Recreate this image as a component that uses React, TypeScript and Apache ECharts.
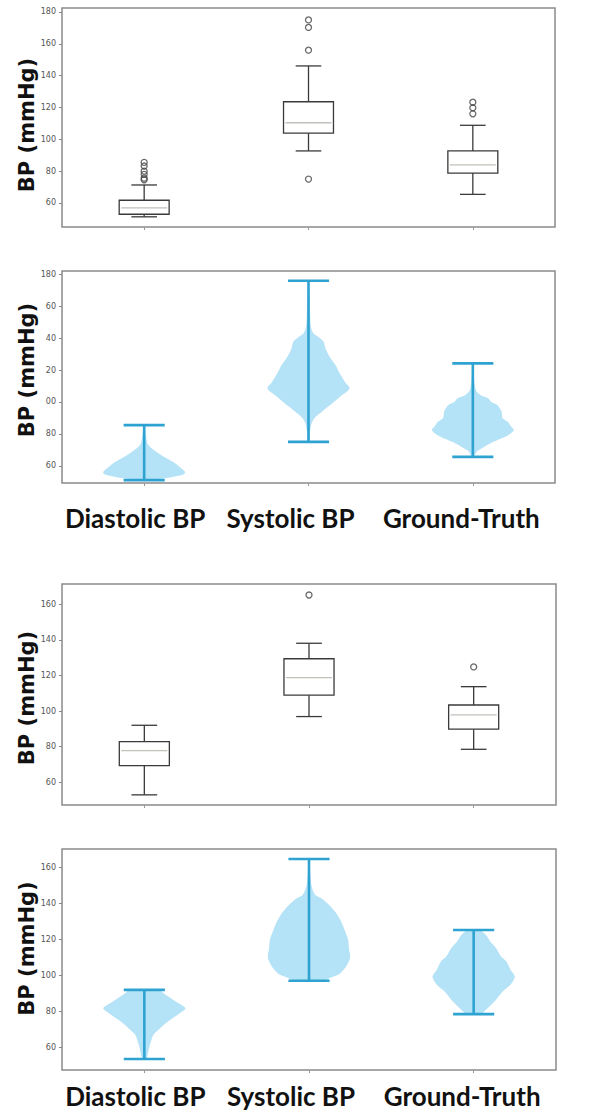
import React, { useEffect, useRef } from "react";
import * as echarts from "echarts";

// ---------- data ----------
const categories = ["Diastolic BP", "Systolic BP", "Ground-Truth"];
const yName = "BP (mmHg)";

// box statistics per category: [whisker low, Q1, median, Q3, whisker high]
const boxStatsTop = [
  [51.3, 52.9, 56.9, 61.7, 71.3],
  [92.7, 103.9, 110.4, 123.6, 146.1],
  [65.4, 78.8, 83.9, 92.7, 108.8],
];
const outliersTop = [
  [85.5, 83.2, 80.0, 78.0, 75.6, 74.6],
  [175.0, 170.3, 156.0, 75.0],
  [123.3, 119.8, 116.0],
];
const boxStatsBottom = [
  [52.9, 69.3, 77.8, 82.8, 92.0],
  [96.9, 108.9, 118.8, 129.4, 138.1],
  [78.5, 89.8, 97.8, 103.4, 113.7],
];
const outliersBottom = [[], [165.2], [124.8]];

// violin profiles: BP values and relative density (1 = widest)
const violinValuesTop = [
  [51.0, 52.5, 54.5, 56.0, 58.5, 62.5, 66.5, 71.0, 74.0, 78.0, 82.0, 85.5],
  [75, 82, 87, 90, 94, 97, 100, 104, 108.5, 112, 117, 121, 123, 128, 133, 137.8, 140, 143, 147, 155, 165, 176],
  [65.6, 69, 71, 75, 79, 82.4, 85, 87.6, 90, 94, 98, 100, 102.3, 104, 107, 112, 118, 124.2],
];
const violinDensityTop = [
  [0.05, 0.6, 0.95, 1.0, 0.9, 0.7, 0.43, 0.18, 0.08, 0.05, 0.03, 0.02],
  [0.02, 0.04, 0.08, 0.15, 0.33, 0.47, 0.62, 0.8, 1.0, 0.9, 0.78, 0.7, 0.66, 0.52, 0.42, 0.37, 0.28, 0.12, 0.06, 0.04, 0.03, 0.01],
  [0.02, 0.1, 0.22, 0.5, 0.85, 1.0, 0.92, 0.85, 0.72, 0.7, 0.6, 0.45, 0.37, 0.2, 0.08, 0.04, 0.02, 0.01],
];
const violinValuesBottom = [
  [53.5, 57, 61, 64, 67, 70, 74, 78, 81.7, 85, 88, 91, 92],
  [97.1, 99, 101, 104, 107, 110, 115, 120, 124.4, 130, 135, 139, 143, 145, 150, 157, 164.8],
  [78.5, 79.8, 85.4, 91, 95, 99.3, 103, 107.7, 111, 115, 119, 122.5, 125.3],
];
const violinDensityBottom = [
  [0.05, 0.09, 0.13, 0.17, 0.22, 0.35, 0.55, 0.8, 1.0, 0.8, 0.6, 0.42, 0.38],
  [0.35, 0.55, 0.75, 0.87, 0.95, 1.0, 0.97, 0.95, 0.88, 0.78, 0.65, 0.5, 0.3, 0.15, 0.06, 0.03, 0.01],
  [0.2, 0.25, 0.5, 0.7, 0.9, 1.0, 0.9, 0.8, 0.65, 0.55, 0.4, 0.3, 0.15],
];

// y-axis ticks and their labels as printed in each panel
const ticksTop = [60, 80, 100, 120, 140, 160, 180];
const tickLabelsPanel1 = ["60", "80", "100", "120", "140", "160", "180"];
const tickLabelsPanel2 = ["60", "80", "00", "20", "40", "60", "180"];
const ticksBottom = [60, 80, 100, 120, 140, 160];
const tickLabelsPanel3 = ["60", "80", "100", "120", "140", "160"];
const tickLabelsPanel4 = ["60", "80", "100", "120", "140", "160"];

// ---------- styles ----------
const BOX_LINE = "#3a3a3a";
const MEDIAN_LINE = "#c4c0ba";
const VIOLIN_FILL = "#b4e2f6";
const VIOLIN_LINE = "#2ea3d2";
const FRAME = "#8a8a8a";

function boxRenderer(params: any, api: any) {
  const cat = api.value(0);
  const lo = api.value(1), q1 = api.value(2), med = api.value(3), q3 = api.value(4), hi = api.value(5);
  const band = api.size([1, 0])[0];
  const hw = band * 0.152;
  const cw = band * 0.078;
  const pLo = api.coord([cat, lo]);
  const pQ1 = api.coord([cat, q1]);
  const pMed = api.coord([cat, med]);
  const pQ3 = api.coord([cat, q3]);
  const pHi = api.coord([cat, hi]);
  const x = pQ1[0];
  const ls = { stroke: BOX_LINE, lineWidth: 1.3, fill: "none" };
  return {
    type: "group",
    children: [
      { type: "line", shape: { x1: x, y1: pQ3[1], x2: x, y2: pHi[1] }, style: ls },
      { type: "line", shape: { x1: x, y1: pQ1[1], x2: x, y2: pLo[1] }, style: ls },
      { type: "line", shape: { x1: x - cw, y1: pHi[1], x2: x + cw, y2: pHi[1] }, style: ls },
      { type: "line", shape: { x1: x - cw, y1: pLo[1], x2: x + cw, y2: pLo[1] }, style: ls },
      { type: "rect", shape: { x: x - hw, y: pQ3[1], width: 2 * hw, height: pQ1[1] - pQ3[1] }, style: { stroke: BOX_LINE, lineWidth: 1.3, fill: "#fff" } },
      { type: "line", shape: { x1: x - hw + 2, y1: pMed[1], x2: x + hw - 2, y2: pMed[1] }, style: { stroke: MEDIAN_LINE, lineWidth: 1.3 } },
    ],
  };
}

function makeViolinRenderer(values: number[][], density: number[][]) {
  return (params: any, api: any) => {
    const i = params.dataIndex;
    const cat = api.value(0);
    const band = api.size([1, 0])[0];
    const half = band * 0.25;
    const cap = band * 0.125;
    const v = values[i];
    const d = density[i];
    const right = v.map((y, k) => {
      const p = api.coord([cat, y]);
      return [p[0] + d[k] * half, p[1]];
    });
    const left = v
      .map((y, k) => {
        const p = api.coord([cat, y]);
        return [p[0] - d[k] * half, p[1]];
      })
      .reverse();
    const pMin = api.coord([cat, api.value(1)]);
    const pMax = api.coord([cat, api.value(2)]);
    const ls = { stroke: VIOLIN_LINE, lineWidth: 2.6 };
    return {
      type: "group",
      children: [
        { type: "polygon", shape: { points: right.concat(left), smooth: 0.25 }, style: { fill: VIOLIN_FILL, stroke: "none" } },
        { type: "line", shape: { x1: pMin[0], y1: pMin[1], x2: pMax[0], y2: pMax[1] }, style: ls },
        { type: "line", shape: { x1: pMin[0] - cap, y1: pMin[1], x2: pMin[0] + cap, y2: pMin[1] }, style: ls },
        { type: "line", shape: { x1: pMax[0] - cap, y1: pMax[1], x2: pMax[0] + cap, y2: pMax[1] }, style: ls },
      ],
    };
  };
}

const grids = [
  { left: 62, width: 493, top: 8, height: 219 },
  { left: 62, width: 493, top: 271, height: 212 },
  { left: 62, width: 494, top: 584, height: 221 },
  { left: 62, width: 494, top: 849, height: 221 },
];
const yRanges = [
  [44.9, 182.5],
  [49.2, 182.1],
  [47.2, 171.4],
  [47.4, 170.4],
];
const yTicks = [ticksTop, ticksTop, ticksBottom, ticksBottom];
const yTickLabels = [tickLabelsPanel1, tickLabelsPanel2, tickLabelsPanel3, tickLabelsPanel4];
const yNamePadding = [
  [0, 15, 0, 0],
  [0, 0, 0, 14],
  [0, 7, 0, 0],
  [0, 0, 0, 22],
];
const catLabelMargin = [0, 22, 0, 13];

function buildOption() {
  const grid = grids.map((g) => ({
    ...g,
    show: true,
    borderColor: FRAME,
    borderWidth: 1.5,
    backgroundColor: "#fff",
  }));
  const xAxis = grids.map((_, gi) => {
    const showLabels = gi === 1 || gi === 3;
    return {
      type: "category",
      gridIndex: gi,
      data: categories,
      boundaryGap: true,
      axisLine: { show: false },
      axisTick: { show: true, alignWithLabel: true, interval: 0, length: 3, lineStyle: { color: "#999", width: 1 } },
      splitLine: { show: false },
      axisLabel: {
        show: showLabels,
        interval: 0,
        margin: catLabelMargin[gi],
        formatter: (v: string, i: number) => `{c${i}|${v}}`,
        rich: {
          c0: { fontFamily: "Lato", fontWeight: "bold", fontSize: 26, color: "#111", padding: [0, 18, 0, 0] },
          c1: { fontFamily: "Lato", fontWeight: "bold", fontSize: 26, color: "#111", padding: [0, 36, 0, 0] },
          c2: { fontFamily: "Lato", fontWeight: "bold", fontSize: 26, color: "#111", padding: [0, 23, 0, 0] },
        },
      },
    };
  });
  const yAxis = grids.map((_, gi) => {
    const ticks = yTicks[gi];
    const labels = yTickLabels[gi];
    return {
      type: "value",
      gridIndex: gi,
      min: yRanges[gi][0],
      max: yRanges[gi][1],
      axisLine: { show: false },
      splitLine: { show: false },
      axisTick: { show: true, length: 3, customValues: ticks, lineStyle: { color: "#888" } },
      axisLabel: {
        customValues: ticks,
        fontSize: 8,
        color: "#555",
        margin: 6,
        fontFamily: "DejaVu Sans",
        formatter: (v: number) => {
          const k = ticks.findIndex((t) => Math.abs(t - v) < 1e-6);
          return k >= 0 ? labels[k] : "";
        },
      },
      name: yName,
      nameLocation: "middle",
      nameRotate: 90,
      nameGap: 25,
      nameMoveOverlap: false,
      nameTextStyle: {
        fontFamily: "DejaVu Sans",
        fontWeight: "bold",
        fontSize: 21,
        color: "#111",
        padding: yNamePadding[gi],
      },
    };
  });

  const boxData = (stats: number[][]) => stats.map((s, i) => [i, ...s]);
  const outlierData = (outs: number[][]) =>
    outs.flatMap((arr, i) => arr.map((v) => [i, v]));
  const violinData = (values: number[][]) =>
    values.map((v, i) => [i, v[0], v[v.length - 1]]);

  const outlierStyle = { color: "rgba(255,255,255,0)", borderColor: "#444", borderWidth: 1.3 };

  const series: any[] = [
    {
      type: "custom", xAxisIndex: 0, yAxisIndex: 0,
      renderItem: boxRenderer, data: boxData(boxStatsTop),
      encode: { x: 0, y: [1, 2, 3, 4, 5] },
    },
    {
      type: "scatter", xAxisIndex: 0, yAxisIndex: 0, symbol: "circle", symbolSize: 6,
      itemStyle: outlierStyle, data: outlierData(outliersTop),
    },
    {
      type: "custom", xAxisIndex: 1, yAxisIndex: 1,
      renderItem: makeViolinRenderer(violinValuesTop, violinDensityTop),
      data: violinData(violinValuesTop), encode: { x: 0, y: [1, 2] },
    },
    {
      type: "custom", xAxisIndex: 2, yAxisIndex: 2,
      renderItem: boxRenderer, data: boxData(boxStatsBottom),
      encode: { x: 0, y: [1, 2, 3, 4, 5] },
    },
    {
      type: "scatter", xAxisIndex: 2, yAxisIndex: 2, symbol: "circle", symbolSize: 6,
      itemStyle: outlierStyle, data: outlierData(outliersBottom),
    },
    {
      type: "custom", xAxisIndex: 3, yAxisIndex: 3,
      renderItem: makeViolinRenderer(violinValuesBottom, violinDensityBottom),
      data: violinData(violinValuesBottom), encode: { x: 0, y: [1, 2] },
    },
  ];

  return {
    animation: false,
    backgroundColor: "#fff",
    grid,
    xAxis,
    yAxis,
    series,
  };
}

export default function App() {
  const ref = useRef<HTMLDivElement>(null);
  useEffect(() => {
    if (!ref.current) return;
    const chart = echarts.init(ref.current, undefined, { renderer: "svg" });
    chart.setOption(buildOption() as any);
    return () => chart.dispose();
  }, []);
  return (
    <div
      ref={ref}
      style={{ position: "absolute", left: 0, top: 0, width: 602, height: 1115, background: "#fff" }}
    />
  );
}
